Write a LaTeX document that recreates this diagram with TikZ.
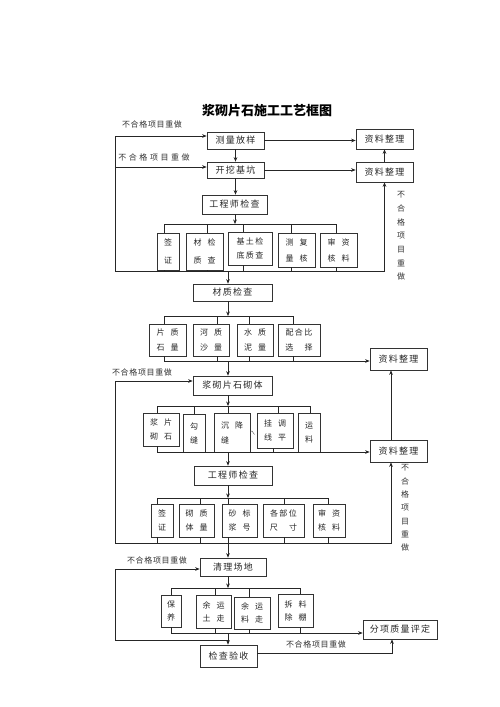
\documentclass[tikz,border=0pt]{standalone}
\usepackage{fontspec}
\setmainfont{Noto Sans CJK SC}
\newfontfamily\cjkls[LetterSpace=14]{Noto Sans CJK SC}
\newfontfamily\cjklab[LetterSpace=8]{Noto Sans CJK SC}
\newfontfamily\cjkwide[LetterSpace=32]{Noto Sans CJK SC}
\usetikzlibrary{arrows.meta}
\newcommand\mybxf{\cjkls\fontsize{9}{11}\selectfont}
\newcommand\mysbf[1]{\fontsize{8}{#1}\selectfont}
\newcommand\mylabf{\cjklab\fontsize{8}{10}\selectfont}
\newcommand\mylabw{\cjkwide\fontsize{8}{10}\selectfont}
\newcommand\mytitlef{\bfseries\fontsize{13}{15}\selectfont}
\newcommand\mygap{\hspace{6pt}}
\begin{document}
\begin{tikzpicture}[x=1pt,y=-1pt,
  ln/.style={line width=0.6pt,draw=black!85},
  arr/.style={ln,-{Stealth[length=4.5pt,width=3.6pt]}},
  bsz/.style 2 args={minimum width=#1,minimum height=#2},
  box/.style={draw=black!80,line width=0.7pt,inner sep=0pt,font=\mybxf,text=black!85},
  sb/.style={draw=black!80,line width=0.7pt,inner sep=0pt,align=center,text=black!85,font={\mysbf{14}}},
  lab/.style={inner sep=0pt,text=black!80,font=\mylabf},
  vlab/.style={inner sep=0pt,text=black!80,align=center},
]
\useasboundingbox (0,0) rectangle (500,707);

% title
\node[font=\mytitlef,text=black] (title) at (267,111) {浆砌片石施工工艺框图};

% ---------- group 1 ----------
\node[box,bsz={57}{17}] (cl) at (235.5,140.5) {测量放样};
\node[box,bsz={57}{16}] (kw) at (235.5,170) {开挖基坑};
\node[box,bsz={57}{20}] (zl1) at (384.5,139) {资料整理};
\node[box,bsz={57}{20}] (zl2) at (384.5,172) {资料整理};
\node[box,bsz={65}{19}] (gc1) at (234.5,204.5) {工程师检查};
\node[sb,bsz={22}{37},font={\mysbf{18}}] (a1) at (168,251.5) {签\\证};
\node[sb,bsz={37}{37},font={\mysbf{18}}] (a2) at (204.5,251.5) {材\mygap 检\\质\mygap 查};
\node[sb,bsz={44}{33}] (a3) at (250,248.5) {基\,土\,检\\底\,质\,查};
\node[sb,bsz={37}{34},font={\mysbf{16}}] (a4) at (296.5,250) {测\mygap 复\\量\mygap 核};
\node[sb,bsz={37}{34},font={\mysbf{16}}] (a5) at (338.5,250) {审\mygap 资\\核\mygap 料};

\draw[arr] (cl) -- (kw);
\draw[arr] (kw.south) -- (kw.south |- gc1.north);
\draw[arr] (cl.east) -- (cl.east -| zl1.west);
\draw[arr] (kw.east) -- (kw.east -| zl2.west);
\draw[arr] (zl2) -- (zl1);
\coordinate (t1) at (235,224);
\draw[arr] (gc1.south -| t1) -- (t1);
\coordinate (t1l) at (164,224); \coordinate (t1r) at (336,224);
\draw[ln] (t1l) -- (t1r);
\foreach \n/\x in {a1/164,a2/207,a3/243,a4/291,a5/336}
  {\coordinate (s) at (\x,224); \draw[ln] (s) -- (s |- \n.north);
   \coordinate (s) at (\x,271); \draw[ln] (s |- \n.south) -- (s);}
\coordinate (b1l) at (115,271);
\draw[arr] (b1l) -- (zl2.south |- b1l) -- (zl2.south);
\coordinate (lt1) at (115,136); \coordinate (lm1) at (115,167);
\draw[arr] (b1l) -- (lt1) -- (lt1 -| cl.west);
\draw[arr] (lm1) -- (lm1 -| kw.west);

% ---------- group 2 ----------
\node[box,bsz={79}{17}] (cz) at (232.5,292.5) {材质检查};
\coordinate (j1) at (228,271);
\draw[arr] (j1) -- (j1 |- cz.north);
\node[sb,bsz={37}{32},font={\mysbf{15}}] (b1) at (167.5,340) {片\mygap 质\\石\mygap 量};
\node[sb,bsz={36}{32},font={\mysbf{15}}] (b2) at (211,340) {河\mygap 质\\沙\mygap 量};
\node[sb,bsz={36}{32},font={\mysbf{15}}] (b3) at (255,340) {水\mygap 质\\泥\mygap 量};
\node[sb,bsz={42}{32},font={\mysbf{15}}] (b4) at (299,340) {配\,合\,比\\选\hspace{11.3pt}择};
\coordinate (t2) at (228,316);
\draw[arr] (cz.south -| t2) -- (t2);
\coordinate (t2l) at (164,316); \coordinate (t2r) at (293,316);
\draw[ln] (t2l) -- (t2r);
\foreach \n/\x in {b1/164,b2/217,b3/249,b4/293}
  {\coordinate (s) at (\x,316); \draw[ln] (s) -- (s |- \n.north);
   \coordinate (s) at (\x,361); \draw[ln] (s |- \n.south) -- (s);}
\node[box,bsz={57}{22}] (zl3) at (398.5,359) {资料整理};
\coordinate (b2l) at (164,361);
\draw[arr] (b2l) -- (b2l -| zl3.west);

% ---------- group 3 ----------
\node[box,bsz={79}{19}] (js) at (232.5,385.5) {浆砌片石砌体};
\coordinate (j2) at (228,361);
\draw[arr] (j2) -- (j2 |- js.north);
\coordinate (lt2) at (115,381); \coordinate (b4l) at (115,543);
\draw[arr] (b4l) -- (lt2) -- (lt2 -| js.west);
\coordinate (t3) at (228,406);
\draw[arr] (js.south -| t3) -- (t3);
\coordinate (t3l) at (157,406); \coordinate (t3r) at (310,406);
\draw[ln] (t3l) -- (t3r);
\node[sb,bsz={36}{33}] (c1) at (161,429.5) {浆\mygap 片\\砌\mygap 石};
\node[sb,bsz={22}{38}] (c2) at (194,433) {勾\\缝};
\node[sb,bsz={36}{39},font={\mysbf{15}}] (c3) at (232,432.5) {沉\mygap 降\\缝\hphantom{\mygap 降}};
\node[sb,bsz={36}{35}] (c4) at (275,430.5) {挂\mygap 调\\线\mygap 平};
\node[sb,bsz={22}{39}] (c5) at (309,432.5) {运\\料};
\draw[line width=0.4pt,draw=black!70] (250.5,431.5) -- (252,431) -- (254.5,434.5);
\foreach \n/\x in {c1/157,c2/194,c3/228,c4/278,c5/310}
  {\coordinate (s) at (\x,406); \draw[ln] (s) -- (s |- \n.north);}
\foreach \n/\x in {c1/157,c2/194,c3/228,c4/273,c5/310}
  {\coordinate (s) at (\x,452); \draw[ln] (s |- \n.south) -- (s);}
\node[box,bsz={57}{22}] (zl4) at (398.5,451) {资料整理};
\coordinate (b3l) at (157,452);
\draw[arr] (b3l) -- (b3l -| zl4.west);
\coordinate (u4) at (391,452);
\draw[arr] (u4 |- zl4.north) -- (u4 |- zl3.south);

% ---------- group 4 ----------
\node[box,bsz={78}{19}] (gc2) at (233,475.5) {工程师检查};
\coordinate (j3) at (228,452);
\draw[arr] (j3) -- (j3 |- gc2.north);
\coordinate (t4) at (228,498);
\draw[arr] (gc2.south -| t4) -- (t4);
\coordinate (t4l) at (157,498); \coordinate (t4r) at (328,498);
\draw[ln] (t4l) -- (t4r);
\node[sb,bsz={22}{33},font={\mysbf{13.5}}] (d1) at (162,520.5) {签\\证};
\node[sb,bsz={35}{33},font={\mysbf{13.5}}] (d2) at (196.5,520.5) {砌\mygap 质\\体\mygap 量};
\node[sb,bsz={35}{33},font={\mysbf{13.5}}] (d3) at (239.5,520.5) {砂\mygap 标\\浆\mygap 号};
\node[sb,bsz={41}{33},font={\mysbf{13.5}}] (d4) at (283.5,520.5) {各\,部\,位\\尺\hspace{11.3pt}寸};
\node[sb,bsz={32}{33},font={\mysbf{13.5}}] (d5) at (329,520.5) {审\mygap 资\\核\mygap 料};
\foreach \n/\x in {d1/157,d2/200,d3/228,d4/284,d5/328}
  {\coordinate (s) at (\x,498); \draw[ln] (s) -- (s |- \n.north);
   \coordinate (s) at (\x,543); \draw[ln] (s |- \n.south) -- (s);}
\coordinate (u4b) at (391,543);
\draw[arr] (b4l) -- (u4b) -- (u4b |- zl4.south);

% ---------- group 5 ----------
\node[box,bsz={66}{18}] (ql) at (233,567) {清理场地};
\coordinate (j4) at (228,543);
\draw[arr] (j4) -- (j4 |- ql.north);
\coordinate (lt5) at (115,569); \coordinate (lb5) at (115,640);
\draw[arr] (lb5) -- (lt5) -- (lt5 -| ql.west);
\coordinate (t5) at (228,588);
\draw[arr] (ql.south -| t5) -- (t5);
\coordinate (t5l) at (171,588); \coordinate (t5r) at (300,588);
\draw[ln] (t5l) -- (t5r);
\node[sb,bsz={20}{32},font={\mysbf{13}}] (e1) at (171,611) {保\\养};
\node[sb,bsz={35}{33},font={\mysbf{13}}] (e2) at (213.5,611.5) {余\mygap 运\\土\mygap 走};
\node[sb,bsz={36}{32},font={\mysbf{13}}] (e3) at (252,613) {余\mygap 运\\料\mygap 走};
\node[sb,bsz={35}{33},font={\mysbf{13}}] (e4) at (295.5,610.5) {拆\mygap 料\\除\mygap 棚};
\foreach \n/\x in {e1/171,e2/215,e3/249,e4/300}
  {\coordinate (s) at (\x,588); \draw[ln] (s) -- (s |- \n.north);
   \coordinate (s) at (\x,633); \draw[ln] (s |- \n.south) -- (s);}
\node[box,bsz={74}{19}] (fx) at (400,629.5) {分项质量评定};
\coordinate (b5l) at (171,633);
\draw[arr] (b5l) -- (b5l -| fx.west);
\node[box,bsz={57}{22}] (jc) at (228.5,656) {检查验收};
\coordinate (j5) at (228,633);
\draw[arr] (j5) -- (j5 |- jc.north);
\draw[ln] (lb5) -- (lb5 -| j5);
\coordinate (u5) at (392,653);
\draw[arr] (u5 -| jc.east) -- (u5) -- (u5 |- fx.south);

% ---------- labels ----------
\node[lab] (n1) at (152,124) {不合格项目重做};
\node[lab,font=\mylabw] (n2) at (154,157) {不合格项目重做};
\node[lab] (n3) at (142,372) {不合格项目重做};
\node[lab] (n4) at (157,560) {不合格项目重做};
\node[lab] (n5) at (316,644) {不合格项目重做};
\node[vlab,font={\mysbf{13.7}}] (n6) at (401,236) {不\\合\\格\\项\\目\\重\\做};
\node[vlab,font={\mysbf{13.3}}] (n7) at (405,508) {不\\合\\格\\项\\目\\重\\做};
\end{tikzpicture}
\end{document}
